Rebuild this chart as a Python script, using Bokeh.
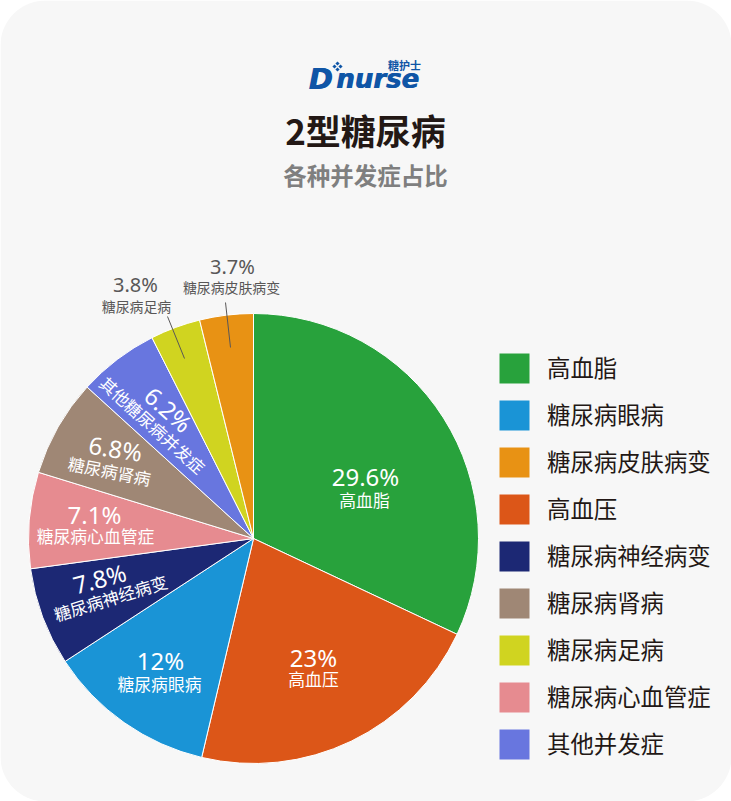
import math

from bokeh.core.properties import value
from bokeh.embed import file_html
from bokeh.models import ColumnDataSource, Range1d
from bokeh.plotting import figure
from bokeh.resources import INLINE

# slices, clockwise from 12 o'clock. The drawn shares differ from the printed labels in the original
slice_names = ["高血脂", "高血压", "糖尿病眼病", "糖尿病神经病变", "糖尿病心血管症",
               "糖尿病肾病", "其他糖尿病并发症", "糖尿病足病", "糖尿病皮肤病变"]
slice_labels = ["29.6%", "23%", "12%", "7.8%", "7.1%", "6.8%", "6.2%", "3.8%", "3.7%"]
slice_shares = [32.0, 21.7, 12.1, 7.05, 6.9, 7.0, 5.8, 3.6, 3.85]
slice_colors = ["#28a23c", "#dc5618", "#1a94d6", "#1c2874", "#e68b90",
                "#9f8775", "#6876df", "#d0d420", "#e89214"]

legend_names = ["高血脂", "糖尿病眼病", "糖尿病皮肤病变", "高血压", "糖尿病神经病变",
                "糖尿病肾病", "糖尿病足病", "糖尿病心血管症", "其他并发症"]
legend_colors = ["#28a23c", "#1a94d6", "#e89214", "#dc5618", "#1c2874",
                 "#9f8775", "#d0d420", "#e68b90", "#6876df"]

CJK = value("Noto Sans CJK SC")
LATIN = value("Noto Sans")
LOGO = value("DejaVu Sans")
W, H = 731, 801


def sy(y):
    # the picture was measured from the top
    return H - y


p = figure(width=W, height=H, output_backend="svg", toolbar_location=None,
           x_range=Range1d(0, W), y_range=Range1d(0, H), min_border=0,
           background_fill_color="white", border_fill_color="white")
p.axis.visible = False
p.grid.visible = False
p.outline_line_color = None

# card with rounded corners
r = 45
xs, ys = [], []
for cx, cy, a0 in [(W - r, H - r, 0), (r, H - r, 90), (r, r, 180), (W - r, r, 270)]:
    for d in range(0, 91, 5):
        xs.append(cx + r * math.cos(math.radians(a0 + d)))
        ys.append(cy + r * math.sin(math.radians(a0 + d)))
p.patch(xs, ys, fill_color="#f7f7f7", line_color=None)


def label(x, y, text, size, color, font=CJK, angle=0, style="normal"):
    # middle baseline sits a bit low compared to the reference
    y = y - 0.09 * size
    p.text([x], [sy(y)], text=[text], text_font=font, text_font_size=f"{size}px",
           text_color=color, text_align="center", text_baseline="middle",
           angle=math.radians(angle), text_font_style=style)


# logo, drawn twice for the extra heavy letters
BLUE = "#0f55a6"
for dx in [0, 0.7]:
    p.text([308 + dx], [sy(78)], text=["D"], text_font=LOGO, text_font_size="29px",
           text_color=BLUE, text_font_style="bold italic", text_baseline="alphabetic")
    p.text([335.5 + dx], [sy(78)], text=["nurse"], text_font=LOGO, text_font_size="26px",
           text_color=BLUE, text_font_style="bold italic", text_baseline="alphabetic")
p.rect([337, 340, 334, 337], [sy(y) for y in [63, 66, 66, 69]], width=3, height=3,
       angle=math.pi / 4, fill_color=BLUE, line_color=None)
label(404, 65.5, "糖护士", 11, BLUE, style="bold")

label(365, 132, "2型糖尿病", 35, "#231815", style="bold")
label(365, 177, "各种并发症占比", 23.5, "#7f7f7f", style="bold")

# pie
CX, CY, R = 253, 538, 225
ends, acc = [], 0
for s in slice_shares:
    acc += s
    ends.append(acc)
starts = [e - s for e, s in zip(ends, slice_shares)]
total = sum(slice_shares)
pie = ColumnDataSource(dict(
    start=[math.pi / 2 - 2 * math.pi * e / total for e in ends],
    end=[math.pi / 2 - 2 * math.pi * s / total for s in starts],
    color=slice_colors,
))
p.wedge(x=CX, y=sy(CY), radius=R, start_angle="start", end_angle="end", source=pie,
        fill_color="color", line_color="white", line_width=1)

# leader lines for the two small slices
p.segment([167, 225], [sy(316), sy(302)], [184, 230], [sy(358), sy(347)],
          line_color="#595757", line_width=1)

# x, y, angle of percent text then of the name
label_spots = [
    (365, 478, 0, 364, 501, 0),
    (313, 659, 0, 313, 680, 0),
    (160, 662, 0, 159, 685, 0),
    (99, 580, 15, 110, 599, 17),
    (94, 516, 0, 95, 537, 0),
    (115, 450, -9, 109, 472, -11),
    (168, 411, -42, 152, 426, -42),
    (135, 286, 0, 136, 307, 0),
    (232, 268, 0, 231, 288, 0),
]
for i, (x1, y1, a1, x2, y2, a2) in enumerate(label_spots):
    outside = i >= 7
    label(x1, y1, slice_labels[i], 20 if outside else 24, "#595757" if outside else "white",
          font=LATIN, angle=a1)
    label(x2, y2, slice_names[i], 13.9 if outside else 16.8, "#595757" if outside else "white", angle=a2)

# legend
for i, (name, color) in enumerate(zip(legend_names, legend_colors)):
    y = 368 + 47 * i
    p.rect([514], [sy(y)], width=30, height=30, fill_color=color, line_color=None)
    p.text([546.5], [sy(y - 2)], text=[name], text_font=CJK, text_font_size="23.4px",
           text_color="#231815", text_baseline="middle")

open("out.html", "w").write(file_html(p, INLINE))
